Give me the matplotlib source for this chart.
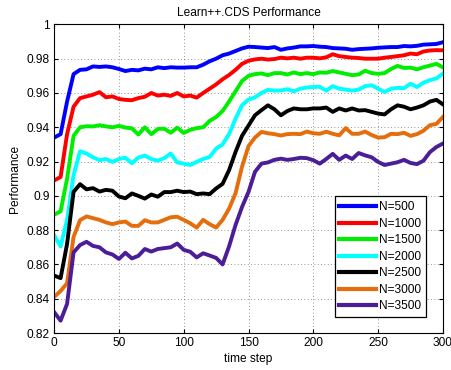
import numpy as np
import matplotlib
matplotlib.use("Agg")
import matplotlib.pyplot as plt

plt.rcParams["font.family"] = ["Liberation Sans", "DejaVu Sans"]

# time steps (every 5 steps)
t = np.arange(0, 301, 5)

n500 = [0.934, 0.936, 0.955, 0.971, 0.9735, 0.9738, 0.9755, 0.9752, 0.9755, 0.975,
        0.974, 0.9728, 0.9735, 0.9732, 0.9742, 0.9738, 0.975, 0.9745, 0.975, 0.9748,
        0.9748, 0.975, 0.975, 0.9765, 0.9785, 0.980, 0.982, 0.983, 0.9845, 0.986,
        0.987, 0.9868, 0.9865, 0.9862, 0.9868, 0.9852, 0.986, 0.9865, 0.9872, 0.9872,
        0.9874, 0.987, 0.9868, 0.9862, 0.986, 0.9858, 0.9852, 0.9856, 0.9858, 0.986,
        0.9864, 0.9866, 0.9868, 0.9868, 0.9874, 0.9872, 0.9875, 0.9882, 0.9884, 0.9886,
        0.9896]
n1000 = [0.909, 0.911, 0.936, 0.952, 0.957, 0.958, 0.959, 0.9605, 0.9575, 0.958,
         0.9565, 0.956, 0.9558, 0.957, 0.9578, 0.960, 0.9585, 0.959, 0.9583, 0.960,
         0.958, 0.9585, 0.9573, 0.960, 0.9625, 0.965, 0.968, 0.9705, 0.9735, 0.977,
         0.9788, 0.9796, 0.980, 0.9795, 0.9798, 0.9806, 0.9802, 0.9806, 0.980, 0.9806,
         0.9806, 0.9802, 0.9808, 0.9826, 0.9815, 0.981, 0.9806, 0.9804, 0.980, 0.980,
         0.980, 0.9806, 0.981, 0.9815, 0.982, 0.983, 0.9826, 0.9842, 0.9848, 0.985,
         0.9849]
n1500 = [0.889, 0.891, 0.910, 0.935, 0.940, 0.9406, 0.9405, 0.9412, 0.9405, 0.940,
         0.9408, 0.9398, 0.9394, 0.9358, 0.940, 0.936, 0.939, 0.9392, 0.9368, 0.9398,
         0.9367, 0.9385, 0.9395, 0.940, 0.9437, 0.946, 0.9495, 0.955, 0.961, 0.967,
         0.970, 0.971, 0.9714, 0.9704, 0.9716, 0.9716, 0.9708, 0.972, 0.971, 0.9716,
         0.971, 0.972, 0.9718, 0.9728, 0.972, 0.9712, 0.9704, 0.9708, 0.973, 0.9716,
         0.9712, 0.9716, 0.974, 0.9758, 0.9746, 0.9748, 0.9738, 0.975, 0.976, 0.977,
         0.975]
n2000 = [0.877, 0.8705, 0.886, 0.912, 0.926, 0.9247, 0.9225, 0.9208, 0.9215, 0.9198,
         0.9215, 0.9222, 0.919, 0.9223, 0.9235, 0.9215, 0.9205, 0.922, 0.9247, 0.9195,
         0.9188, 0.918, 0.9198, 0.9215, 0.9227, 0.9276, 0.930, 0.936, 0.945, 0.9528,
         0.9562, 0.9575, 0.960, 0.9618, 0.9614, 0.9615, 0.9622, 0.961, 0.9625, 0.9632,
         0.9635, 0.9636, 0.9614, 0.964, 0.9625, 0.962, 0.9614, 0.962, 0.964, 0.9645,
         0.9625, 0.9606, 0.9625, 0.963, 0.9628, 0.9654, 0.9635, 0.966, 0.9675, 0.9685,
         0.9713]
n2500 = [0.8535, 0.852, 0.872, 0.9023, 0.9068, 0.9038, 0.9045, 0.9025, 0.9035, 0.903,
         0.8996, 0.8986, 0.9014, 0.900, 0.8984, 0.9008, 0.8995, 0.9022, 0.9022, 0.903,
         0.9022, 0.9025, 0.901, 0.9014, 0.901, 0.9043, 0.907, 0.915, 0.9256, 0.935,
         0.941, 0.947, 0.950, 0.9528, 0.9505, 0.947, 0.9495, 0.951, 0.9505, 0.9505,
         0.951, 0.951, 0.9515, 0.949, 0.951, 0.9498, 0.951, 0.9498, 0.950, 0.949,
         0.948, 0.9475, 0.9505, 0.9528, 0.952, 0.9505, 0.9515, 0.9528, 0.955, 0.956,
         0.9534]
n3000 = [0.841, 0.8445, 0.849, 0.876, 0.8858, 0.888, 0.887, 0.886, 0.8845, 0.8835,
         0.8845, 0.885, 0.8825, 0.8825, 0.8858, 0.8845, 0.8845, 0.886, 0.8875, 0.8878,
         0.886, 0.884, 0.8815, 0.886, 0.8835, 0.8815, 0.886, 0.8925, 0.9015, 0.917,
         0.929, 0.934, 0.9373, 0.9365, 0.936, 0.9352, 0.936, 0.9362, 0.936, 0.9375,
         0.9365, 0.9362, 0.9374, 0.9362, 0.9353, 0.9395, 0.9362, 0.9362, 0.9375, 0.9355,
         0.934, 0.9342, 0.9362, 0.936, 0.9368, 0.935, 0.936, 0.938, 0.9412, 0.942,
         0.946]
n3500 = [0.8322, 0.8272, 0.837, 0.867, 0.8713, 0.8732, 0.8708, 0.870, 0.867, 0.8658,
         0.8632, 0.8668, 0.8635, 0.865, 0.869, 0.8675, 0.869, 0.8695, 0.870, 0.8722,
         0.8685, 0.8674, 0.8641, 0.8665, 0.8652, 0.8638, 0.860, 0.8705, 0.883, 0.8935,
         0.9023, 0.914, 0.9188, 0.9195, 0.921, 0.9217, 0.921, 0.9215, 0.9222, 0.922,
         0.9208, 0.9188, 0.9215, 0.9245, 0.921, 0.9235, 0.9215, 0.925, 0.9236, 0.9225,
         0.9198, 0.918, 0.9188, 0.9196, 0.921, 0.9192, 0.9185, 0.9205, 0.9255, 0.9285,
         0.9305]

labels = ["N=500", "N=1000", "N=1500", "N=2000", "N=2500", "N=3000", "N=3500"]
series = [n500, n1000, n1500, n2000, n2500, n3000, n3500]
colors = ["#0000ff", "#ff0000", "#00ee00", "#00ffff", "#000000", "#e56d0c", "#4b1e98"]

fs = 8.6

fig = plt.figure(figsize=(4.51, 3.70), dpi=100)
ax = fig.add_axes([0.12, 0.10, 0.862, 0.834])

for y, c, lab in zip(series, colors, labels):
    ax.plot(t, y, color=c, lw=2.8, label=lab)

ax.set_xlim(0, 300)
ax.set_ylim(0.82, 1.0)
ax.set_xticks(np.arange(0, 301, 50))
ax.set_yticks(np.arange(0.82, 1.001, 0.02))
ax.set_yticklabels(["0.82", "0.84", "0.86", "0.88", "0.9", "0.92", "0.94", "0.96", "0.98", "1"])
ax.tick_params(direction="in", top=True, right=True, labelsize=fs, length=3, pad=3)
ax.grid(True, linestyle=(0, (1, 3)), color="black", linewidth=0.6, alpha=0.55)

ax.set_title("Learn++.CDS Performance", fontsize=fs, pad=6)
ax.set_xlabel("time step", fontsize=fs, labelpad=3)
ax.set_ylabel("Performance", fontsize=fs, labelpad=4)

leg = ax.legend(loc="lower right", bbox_to_anchor=(0.957, 0.051), fontsize=fs,
                fancybox=False, edgecolor="black", framealpha=1,
                handlelength=3.05, handletextpad=0.3, labelspacing=0.38,
                borderpad=0.4, borderaxespad=0)
leg.get_frame().set_linewidth(0.9)
for h in leg.get_lines():
    h.set_linewidth(3.0)

fig.savefig("out.png", dpi=100)
